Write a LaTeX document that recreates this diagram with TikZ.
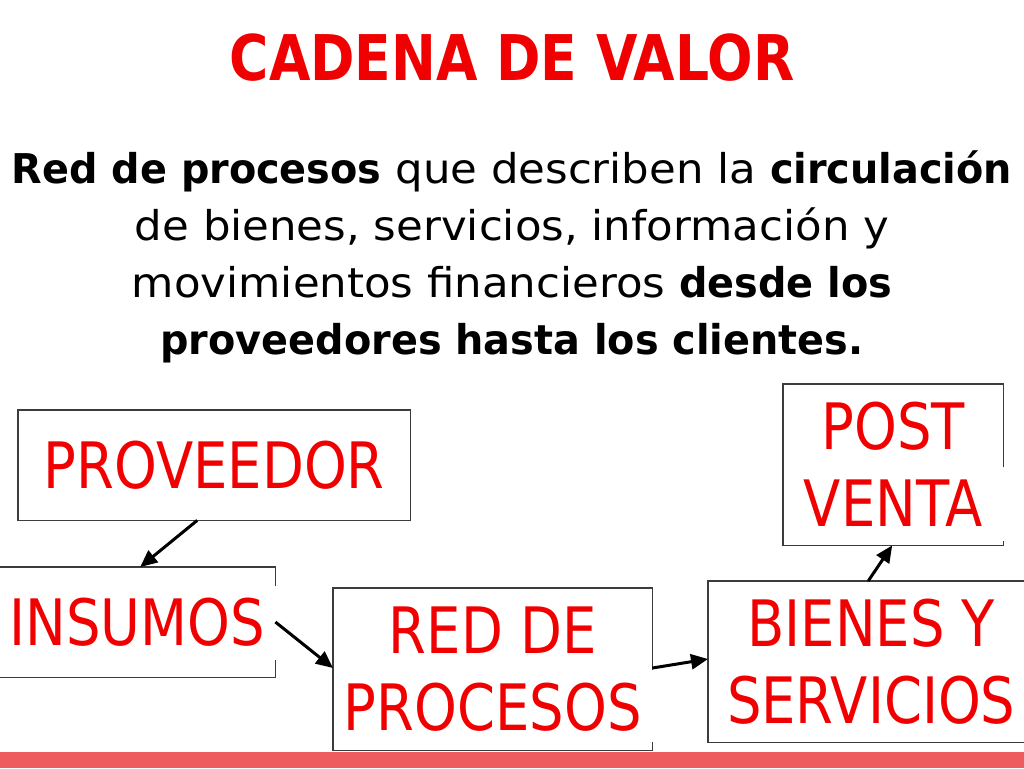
\documentclass[tikz,border=0pt]{standalone}
\usepackage{fontspec}
\setmainfont{DejaVu Sans}[FakeStretch=0.85]
\newfontfamily\bodyR{DejaVu Sans}[FakeStretch=1.06]
\newfontfamily\bodyB{DejaVu Sans}[FakeStretch=0.97]
\newcommand{\bb}[1]{{\bodyB\bfseries #1}}
\usetikzlibrary{arrows.meta}
\definecolor{tred}{RGB}{240,0,0}
\definecolor{barred}{RGB}{238,92,96}
\definecolor{framegray}{RGB}{60,60,60}
\tikzset{
  boxnode/.style={anchor=north west, inner sep=0pt, text=tred, align=center,
    font=\fontsize{64}{77}\selectfont},
  frame/.style={draw=framegray, line width=1.2pt},
  conn/.style={draw=black, line width=3pt, -{Triangle[length=17pt,width=15pt]}},
  bodyline/.style={anchor=base, inner sep=0pt, font=\fontsize{41}{57}\selectfont\bodyR}
}
\begin{document}
\begin{tikzpicture}[x=1pt,y=-1pt]
\useasboundingbox (0,0) rectangle (1024,768);
\fill[white] (0,0) rectangle (1024,768);
\fill[barred] (0,752) rectangle (1024,768);
% title
\node[anchor=base, inner sep=0pt, text=tred, font=\fontsize{63}{70}\selectfont\bfseries] (title) at (512,80) {CADENA DE VALOR};
% body
\node[bodyline] (l1) at (512,183) {\bb{Red de procesos} que describen la \bb{circulación}};
\node[bodyline] (l2) at (512,240) {de bienes, servicios, información y};
\node[bodyline] (l3) at (512,297) {movimientos financieros \bb{desde los}};
\node[bodyline] (l4) at (512,354) {\bb{proveedores hasta los clientes.}};
% boxes
\node[boxnode, minimum width=392pt, minimum height=110pt] (prov) at (18,410) {PROVEEDOR};
\node[boxnode, minimum width=276pt, minimum height=110pt] (ins) at (-1,567) {INSUMOS};
\node[boxnode, minimum width=319pt, minimum height=162pt] (red) at (333,588) {RED DE\\PROCESOS};
\node[boxnode, minimum width=326pt, minimum height=161pt] (bie) at (708,581) {BIENES Y\\SERVICIOS};
\node[boxnode, minimum width=220pt, minimum height=161pt] (post) at (783,384) {POST\\VENTA};
% frames
\draw[frame] (prov.north west) rectangle (prov.south east);
\draw[frame] ([yshift=-19pt]ins.north east) -- (ins.north east) -- (ins.north west) -- (ins.south west) -- (ins.south east) -- ([yshift=17pt]ins.south east);
\draw[frame] ([yshift=-82pt]red.north east) -- (red.north east) -- (red.north west) -- (red.south west) -- (red.south east) -- ([yshift=8pt]red.south east);
\draw[frame] (bie.north east) -- (bie.north west) -- (bie.south west) -- (bie.south east);
\draw[frame] ([yshift=-83pt]post.north east) -- (post.north east) -- (post.north west) -- (post.south west) -- (post.south east) -- ([yshift=4pt]post.south east);
% connectors
\draw[conn] ([xshift=-17pt]prov.south) -- ([xshift=3pt]ins.north);
\draw[conn] ([yshift=-55pt]ins.north east) -- ([yshift=-80pt]red.north west);
\draw[conn] ([yshift=-80pt]red.north east) -- ([yshift=-78pt]bie.north west);
\draw[conn] ([xshift=-3pt]bie.north) -- ([xshift=-1pt]post.south);
\end{tikzpicture}
\end{document}
